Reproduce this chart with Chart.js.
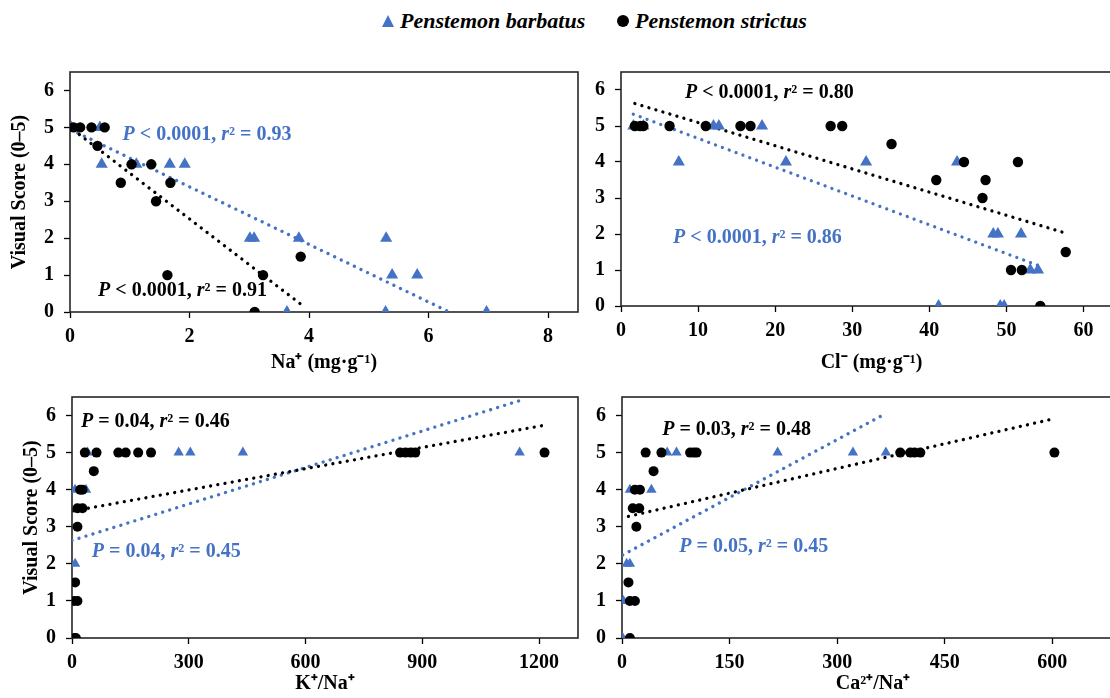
<!DOCTYPE html>
<html><head><meta charset="utf-8">
<script src="https://cdn.jsdelivr.net/npm/chart.js@4.4.1/dist/chart.umd.min.js"></script>
<style>
html,body{margin:0;padding:0;background:#fff;width:1110px;height:698px;overflow:hidden;position:relative;}
canvas{position:absolute;}
.lg{position:absolute;font:italic bold 22px "Liberation Serif","Times New Roman",serif;color:#000;line-height:26px;top:8px;white-space:nowrap;}
.tri{position:absolute;left:382px;top:15px;width:0;height:0;border-left:6.5px solid transparent;border-right:6.5px solid transparent;border-bottom:12px solid #4472C4;}
.dot{position:absolute;left:617px;top:15px;width:12px;height:12px;border-radius:50%;background:#000;}
</style></head><body>
<div class="tri"></div><div class="lg" style="left:400px">Penstemon barbatus</div>
<div class="dot"></div><div class="lg" style="left:635px">Penstemon strictus</div>
<canvas id="cA" width="590" height="325" style="left:0;top:50px"></canvas>
<canvas id="cB" width="570" height="325" style="left:560px;top:50px"></canvas>
<canvas id="cC" width="590" height="323" style="left:0;top:375px"></canvas>
<canvas id="cD" width="570" height="323" style="left:560px;top:375px"></canvas>
<script>
// ---------- DATA ----------
const yTicks = [0, 1, 2, 3, 4, 5, 6];

// Panel A: Na+ (mg·g-1)
const naTicks = [0, 2, 4, 6, 8];
const naBarbX = [0.02, 0.50, 0.53, 1.11, 1.67, 1.92, 3.01, 3.08, 3.83, 5.29, 5.39, 5.81, 3.63, 5.28, 6.97];
const naBarbY = [5, 5, 4, 4, 4, 4, 2, 2, 2, 2, 1, 1, 0, 0, 0];
const naStriX = [0.06, 0.17, 0.36, 0.58, 0.46, 1.03, 1.36, 0.85, 1.68, 1.44, 1.63, 3.23, 3.09, 3.86];
const naStriY = [5, 5, 5, 5, 4.5, 4, 4, 3.5, 3.5, 3, 1, 1, 0, 1.5];
const naFitBarb = [4.95, -0.78];   // intercept, slope
const naFitStri = [5.00, -1.24];
const naStatBarb = ['< 0.0001', '0.93'];
const naStatStri = ['< 0.0001', '0.91'];

// Panel B: Cl- (mg·g-1)
const clTicks = [0, 10, 20, 30, 40, 50, 60];
const clBarbX = [1.6, 2.9, 12.0, 12.7, 18.3, 7.5, 21.4, 31.8, 43.6, 48.3, 48.9, 51.9, 53.1, 54.1, 41.2, 49.2, 49.7];
const clBarbY = [5, 5, 5, 5, 5, 4, 4, 4, 4, 2, 2, 2, 1, 1, 0, 0, 0];
const clStriX = [1.8, 2.5, 2.9, 6.3, 11.0, 15.5, 16.8, 27.2, 28.7, 35.1, 44.5, 51.5, 40.9, 47.3, 46.9, 57.7, 50.6, 52.0, 54.4];
const clStriY = [5, 5, 5, 5, 5, 5, 5, 5, 5, 4.5, 4, 4, 3.5, 3.5, 3, 1.5, 1, 1, 0];
const clFitBarb = [5.455, -0.080];
const clFitStri = [5.74, -0.0644];
const clStatBarb = ['< 0.0001', '0.86'];
const clStatStri = ['< 0.0001', '0.80'];

// Panel C: K+/Na+
const kTicks = [0, 300, 600, 900, 1200];
const kBarbX = [40, 274, 304, 439, 1150, 8, 36, 8, 0, 0];
const kBarbY = [5, 5, 5, 5, 5, 4, 4, 2, 1, 0];
const kStriX = [33, 63, 119, 138, 170, 203, 843, 857, 870, 882, 1214, 56, 21, 27, 14, 27, 14, 8, 5, 14, 5, 10];
const kStriY = [5, 5, 5, 5, 5, 5, 5, 5, 5, 5, 5, 4.5, 4, 4, 3.5, 3.5, 3, 1.5, 1, 1, 0, 0];
const kFitBarb = [2.63, 0.00328];
const kFitStri = [3.42, 0.00191];
const kStatBarb = ['= 0.04', '0.45'];
const kStatStri = ['= 0.04', '0.46'];

// Panel D: Ca2+/Na+
const caTicks = [0, 150, 300, 450, 600];
const caBarbX = [63, 76, 217, 322, 368, 11, 41, 6.5, 11, 2, 1];
const caBarbY = [5, 5, 5, 5, 5, 4, 4, 2, 2, 1, 0];
const caStriX = [33, 55, 95, 100, 104, 388, 402, 408, 416, 603, 44, 18, 25, 15, 24, 20, 9, 11, 18, 11];
const caStriY = [5, 5, 5, 5, 5, 5, 5, 5, 5, 5, 4.5, 4, 4, 3.5, 3.5, 3, 1.5, 1, 1, 0];
const caFitBarb = [2.23, 0.0104];
const caFitStri = [3.24, 0.00444];
const caStatBarb = ['= 0.05', '0.45'];
const caStatStri = ['= 0.03', '0.48'];

// ---------- STYLE / LAYOUT ----------
const BLUE = '#4472C4';
const FONT = '"Liberation Serif","Times New Roman",serif';

const pts = (xs, ys) => xs.map((x, i) => ({x, y: ys[i]}));
const fitLine = (xs, f) => {
  const lo = Math.min(...xs), hi = Math.max(...xs);
  return [{x: lo, y: f[0] + f[1] * lo}, {x: hi, y: f[0] + f[1] * hi}];
};

const framePlugin = {
  id: 'frame',
  beforeDatasetsDraw(chart) {
    const {ctx, chartArea: a} = chart;
    ctx.save();
    ctx.strokeStyle = '#262626';
    ctx.lineWidth = 1.6;
    ctx.strokeRect(a.left, a.top, a.right - a.left, a.bottom - a.top);
    ctx.restore();
  }
};

const statPlugin = {
  id: 'stats',
  afterDatasetsDraw(chart, args, opts) {
    const {ctx} = chart;
    const sx = chart.scales.x, sy = chart.scales.y;
    (opts.items || []).forEach(it => {
      let cx = sx.getPixelForValue(it.x);
      const cy = sy.getPixelForValue(it.y);
      const parts = [['P', true], [' ' + it.stat[0] + ', ', false], ['r', true], ['\u00B2', false], [' = ' + it.stat[1], false]];
      ctx.save();
      ctx.fillStyle = it.color;
      ctx.textBaseline = 'middle';
      ctx.textAlign = 'left';
      parts.forEach(([t, ital]) => {
        ctx.font = (ital ? 'italic ' : '') + 'bold 20px ' + FONT;
        ctx.fillText(t, cx, cy);
        cx += ctx.measureText(t).width;
      });
      ctx.restore();
    });
  }
};

function makeChart(id, c) {
  const tickFont = {family: FONT, size: 20, weight: 'bold'};
  new Chart(document.getElementById(id), {
    type: 'scatter',
    data: {
      datasets: [
        {data: pts(c.sX, c.sY), pointStyle: 'circle', pointRadius: c.cr, backgroundColor: '#000', borderWidth: 0},
        {data: pts(c.bX, c.bY), pointStyle: 'triangle', pointRadius: c.tr, backgroundColor: BLUE, borderWidth: 0},
        {data: fitLine(c.sX, c.sF), showLine: true, pointRadius: 0, borderColor: '#000', borderWidth: 3.3,
          borderDash: [0.01, 7.3], borderCapStyle: 'round'},
        {data: fitLine(c.bX, c.bF), showLine: true, pointRadius: 0, borderColor: BLUE, borderWidth: 3.3,
          borderDash: [0.01, 7.3], borderCapStyle: 'round'}
      ]
    },
    options: {
      responsive: false, animation: false, devicePixelRatio: 1,
      layout: {padding: c.pad},
      plugins: {legend: {display: false}, tooltip: {enabled: false}, stats: {items: c.labels}},
      scales: {
        x: {
          type: 'linear', min: 0, max: c.xMax,
          afterBuildTicks: s => { s.ticks = c.xTicks.map(v => ({value: v})); },
          afterFit: s => { s.height = c.xH; },
          border: {display: false},
          grid: {drawOnChartArea: false, drawTicks: true, tickLength: 6, tickColor: '#000', tickWidth: 1.3},
          ticks: {color: '#000', font: tickFont, padding: 7, maxRotation: 0, callback: v => String(v)},
          title: {display: true, text: c.xTitle, color: '#000', font: tickFont, padding: {top: 0, bottom: c.xTP}}
        },
        y: {
          type: 'linear', min: 0, max: 6.5,
          afterBuildTicks: s => { s.ticks = yTicks.map(v => ({value: v})); },
          afterFit: s => { s.width = c.yW; },
          border: {display: false},
          grid: {drawOnChartArea: false, drawTicks: true, tickLength: 6, tickColor: '#000', tickWidth: 1.3},
          ticks: {color: '#000', font: tickFont, padding: 10, callback: v => String(v)},
          title: {display: !!c.yTitle, text: c.yTitle || '', color: '#000', font: tickFont, padding: {top: c.yTP, bottom: 0}}
        }
      }
    },
    plugins: [framePlugin, statPlugin]
  });
}

makeChart('cA', {
  sX: naStriX, sY: naStriY, bX: naBarbX, bY: naBarbY, sF: naFitStri, bF: naFitBarb,
  xTicks: naTicks, xMax: 8.5, xTitle: 'Na\u207A (mg\u00B7g\u207B\u00B9)', yTitle: 'Visual Score (0\u20135)',
  pad: {top: 12, right: 12, left: 0, bottom: 0}, yW: 70, xH: 63, yTP: 8, xTP: 0, cr: 5.2, tr: 7,
  labels: [{x: 0.88, y: 4.81, stat: naStatBarb, color: BLUE}, {x: 0.47, y: 0.56, stat: naStatStri, color: '#000'}]
});
makeChart('cB', {
  sX: clStriX, sY: clStriY, bX: clBarbX, bY: clBarbY, sF: clFitStri, bF: clFitBarb,
  xTicks: clTicks, xMax: 65, xTitle: 'Cl\u207B (mg\u00B7g\u207B\u00B9)', yTitle: null,
  pad: {top: 12, right: 8, left: 0, bottom: 0}, yW: 61, xH: 69, yTP: 0, xTP: 0, cr: 5.2, tr: 7,
  labels: [{x: 8.3, y: 5.92, stat: clStatStri, color: '#000'}, {x: 6.75, y: 1.88, stat: clStatBarb, color: BLUE}]
});
makeChart('cC', {
  sX: kStriX, sY: kStriY, bX: kBarbX, bY: kBarbY, sF: kFitStri, bF: kFitBarb,
  xTicks: kTicks, xMax: 1300, xTitle: 'K\u207A/Na\u207A', yTitle: 'Visual Score (0\u20135)',
  pad: {top: 10, right: 12, left: 0, bottom: 0}, yW: 72, xH: 60, yTP: 20, xTP: 2, cr: 5, tr: 6,
  labels: [{x: 23, y: 5.82, stat: kStatStri, color: '#000'}, {x: 51, y: 2.32, stat: kStatBarb, color: BLUE}]
});
makeChart('cD', {
  sX: caStriX, sY: caStriY, bX: caBarbX, bY: caBarbY, sF: caFitStri, bF: caFitBarb,
  xTicks: caTicks, xMax: 700, xTitle: 'Ca\u00B2\u207A/Na\u207A', yTitle: null,
  pad: {top: 12, right: 6, left: 0, bottom: 0}, yW: 62, xH: 60, yTP: 0, xTP: 2, cr: 5, tr: 6,
  labels: [{x: 56, y: 5.62, stat: caStatStri, color: '#000'}, {x: 80, y: 2.45, stat: caStatBarb, color: BLUE}]
});
</script>
</body></html>
